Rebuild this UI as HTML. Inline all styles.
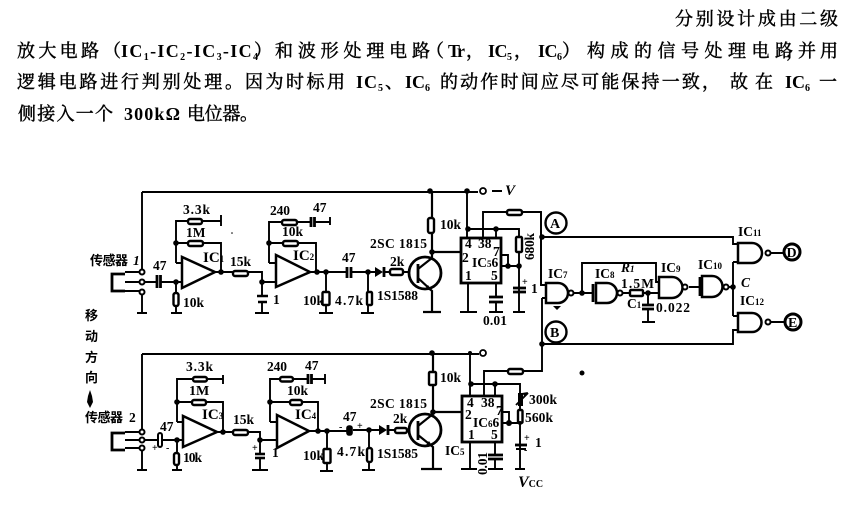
<!DOCTYPE html>
<html><head><meta charset="utf-8"><style>
html,body{margin:0;padding:0;background:#fff}
svg{display:block}
.w{fill:none;stroke:#000;stroke-width:1.9}
.t{fill:none;stroke:#000;stroke-width:2.8}
.r{fill:#fff;stroke:#000;stroke-width:2.4}
.g{fill:#fff;stroke:#000;stroke-width:2.5}
.o{fill:#fff;stroke:#000;stroke-width:2}
text{font-family:"Liberation Serif","Noto Serif CJK SC",serif;fill:#000;font-weight:bold;font-size:13.5px}
.h{font-size:18px;font-weight:normal;stroke:#000;stroke-width:.45}
.l{font-size:18px;font-weight:bold}
.c{font-family:"Liberation Sans","Noto Sans CJK SC",sans-serif;font-size:13px}
.i{font-style:italic}
.s{font-size:9px}
</style></head><body>
<svg width="860" height="519" viewBox="0 0 860 519" xmlns="http://www.w3.org/2000/svg">
<rect width="860" height="519" fill="#fff"/>
<!-- paragraph -->
<text class="h" x="675" y="25" textLength="163">分别设计成由二级</text>

<text class="h" x="17" y="57" textLength="82">放大电路</text>
<text class="h" x="103" y="57">（</text>
<text class="l" x="121" y="57" textLength="137">IC<tspan font-size="10" dy="3">1</tspan><tspan dy="-3">-IC</tspan><tspan font-size="10" dy="3">2</tspan><tspan dy="-3">-IC</tspan><tspan font-size="10" dy="3">3</tspan><tspan dy="-3">-IC</tspan><tspan font-size="10" dy="3">4</tspan></text>
<text class="h" x="254" y="57">）</text>
<text class="h" x="275" y="57" textLength="155">和波形处理电路</text>
<text class="h" x="426" y="57">（</text>
<text class="l" x="448" y="57" textLength="17">Tr</text><text class="h" x="466" y="57">，</text>
<text class="l" x="488" y="57" textLength="24">IC<tspan font-size="10" dy="3">5</tspan></text><text class="h" x="514" y="57">，</text>
<text class="l" x="538" y="57" textLength="24">IC<tspan font-size="10" dy="3">6</tspan></text><text class="h" x="562" y="57">）</text>
<text class="h" x="587" y="57" textLength="206">构成的信号处理电路</text>
<text class="h" x="786" y="57">，</text>
<text class="h" x="798" y="57" textLength="40">并用</text>

<text class="h" x="17" y="88" textLength="226">逻辑电路进行判别处理。</text>
<text class="h" x="245" y="88" textLength="100">因为时标用</text>
<text class="l" x="356" y="88" textLength="27">IC<tspan font-size="10" dy="3">5</tspan></text>
<text class="h" x="385" y="88">、</text>
<text class="l" x="405" y="88" textLength="25">IC<tspan font-size="10" dy="3">6</tspan></text>
<text class="h" x="440" y="88" textLength="280">的动作时间应尽可能保持一致，</text>
<text class="h" x="730" y="88" textLength="43">故在</text>
<text class="l" x="785" y="88" textLength="25">IC<tspan font-size="10" dy="3">6</tspan></text>
<text class="h" x="819" y="88">一</text>

<text class="h" x="18" y="120" textLength="95">侧接入一个</text>
<text class="l" x="124" y="120" textLength="56">300kΩ</text>
<text class="h" x="187" y="120" textLength="71">电位器。</text>

<!-- TOP CHANNEL wires -->
<path class="w" d="M142,192H478M142,192V270M142,292V313M137,313H147"/>
<path class="t" d="M125,274H112V291H125"/>
<path class="w" d="M125,272H140M125,282H140M125,291H140"/>
<path class="w" d="M144,282H158M160,282H182"/>
<path class="t" d="M157,275V288M160.5,275V288"/>
<path class="w" d="M176,282V313M171,313H182"/>
<rect class="r" x="173.500" y="293" width="5" height="13" rx="2"/>
<path class="w" d="M176,263V221H221M221,215V226M176,243H221V272M176,263H182"/>
<rect class="r" x="188" y="219" width="14" height="5" rx="2"/>
<rect class="r" x="188" y="241" width="15" height="5" rx="2"/>
<path class="g" d="M182,257V288L215,272Z"/>
<path class="w" d="M215,272H262V282M262,282H276M262,282V296M262,303V313M255,313H269"/>
<path class="w" d="M257,296H268M258,302H267" style="stroke-width:2.6"/>
<rect class="r" x="233" y="271" width="15" height="5" rx="2"/>
<path class="w" d="M269,263V222H310M315,222H330M330,217V225M269,243H316V272M269,263H276"/>
<path class="t" d="M311,217V227M314.500,217V227"/>
<rect class="r" x="282" y="220" width="15" height="5" rx="2"/>
<rect class="r" x="283" y="241" width="15" height="5" rx="2"/>
<path class="g" d="M276,255V287L310,272Z"/>
<path class="w" d="M310,272H346M352,272H380M326,272V313M319,313H333M368,272V313M361,313H374"/>
<path class="t" d="M347,267V278M351,267V278"/>
<rect class="r" x="322.500" y="292" width="7" height="13" rx="1"/>
<rect class="r" x="367" y="292" width="5" height="13" rx="1"/>
<path d="M375,267V277L383,272Z"/><path class="t" d="M384,267V277"/>
<path class="w" d="M384,272H418"/>
<rect class="r" x="390" y="269" width="13" height="6" rx="2"/>
<circle class="o" cx="425" cy="273" r="16" style="stroke-width:2.8"/>
<path class="t" d="M418,264V283"/>
<path class="w" d="M418,269L432,258V192M418,278L432,291V312M423,312H441M432,252H461" style="stroke-width:2.2"/>
<path d="M432,291l-7,-2l3,-4z"/>
<rect class="r" x="428" y="218" width="6" height="15" rx="2"/>
<circle class="o" cx="483" cy="191" r="3" style="stroke-width:1.8"/>
<path class="w" d="M492,191H502" style="stroke-width:2"/>

<!-- IC5 -->
<rect x="461" y="238" width="40" height="45" fill="#fff" stroke="#000" stroke-width="2.8"/>
<path class="w" d="M467,191V238M467,229H519V312M513,312H525M496,229V238M483,238V212H541V285M501,255H508V266M501,266H519M496,283V297M496,302V312M489,312H503M468,283V312M460,312H477"/>
<path class="t" d="M489,297H503M489,302H503"/>
<path class="t" d="M513,288H526M513,292H526"/>
<rect class="r" x="516" y="237" width="6" height="15" rx="1"/>
<rect class="r" x="507" y="210" width="15" height="5" rx="2"/>
<path class="w" d="M541,212V285H547M542,298V371H523M508,371H484V396M542,298H548"/>
<circle class="o" cx="556" cy="223" r="10.500" style="stroke-width:2.400"/>
<circle class="o" cx="556" cy="332" r="10.500" style="stroke-width:2.400"/>
<path class="w" d="M541,237H733V244H738M541,344H733V330H738"/>
<path class="w" d="M573,293H594M582,293V263H656V282H660M621,293H660M648,293V305M648,309V322M642,322H655M689,287H701M729,287H733M733,262V316M733,262H738M733,316H738M771,253H785M771,322H785"/>
<path class="t" d="M642,305H654M642,309H654"/>
<rect class="r" x="630" y="290" width="13" height="6" rx="1"/>
<path class="g" d="M546,283H558A10,10 0 0 1 558,303H546Z"/><circle class="o" cx="571" cy="293" r="2.500"/>
<path class="g" d="M596,283H607A10,10 0 0 1 607,303H596Z"/><path class="t" d="M593,284V302"/><circle class="o" cx="620" cy="293" r="2.500"/>
<path class="g" d="M659,277H672A10.500,10.500 0 0 1 672,298H659Z"/><circle class="o" cx="685" cy="287" r="2.500"/>
<path class="g" d="M702,276H712A10.500,10.500 0 0 1 712,297H702Z"/><path class="t" d="M700,277V296"/><circle class="o" cx="726" cy="287" r="2.500"/>
<path class="g" d="M738,243H752A10,10 0 0 1 752,263H738Z"/><circle class="o" cx="768" cy="253" r="2.500"/>
<path class="g" d="M738,313H752A9.500,9.500 0 0 1 752,332H738Z"/><circle class="o" cx="768" cy="322" r="2.500"/>
<circle class="o" cx="792" cy="252" r="8" style="stroke-width:3"/>
<circle class="o" cx="793" cy="322" r="8" style="stroke-width:3"/>

<!-- BOTTOM CHANNEL -->
<path class="w" d="M142,354H479M142,354V429M142,450V470M137,470H147"/>
<path class="t" d="M125,433H112V450H125"/>
<path class="w" d="M125,432H140M125,440H140M125,448H140"/>
<path class="w" d="M144,440H183M177,440V470M172,470H182"/>
<rect x="158" y="433" width="4" height="14" rx="2" fill="#fff" stroke="#000" stroke-width="2"/>
<rect class="r" x="174" y="453" width="5" height="12" rx="2"/>
<path class="w" d="M177,422V379H223M223,375V384M177,402H223V432M177,422H183"/>
<rect class="r" x="193" y="377" width="14" height="4.500" rx="2"/>
<rect class="r" x="192" y="400" width="14" height="5" rx="2"/>
<path class="g" d="M183,416V447L217,432Z"/>
<path class="w" d="M217,432H260V440H277M260,440V454M260,458V470M252,470H268"/>
<path class="w" d="M255,454H265" style="stroke-width:2.6"/><path class="w" d="M255,458H265" style="stroke-width:2.6"/>
<rect class="r" x="233" y="430" width="15" height="5" rx="2"/>
<path class="w" d="M270,422V379H308M312,379H325M325,374V384M270,402H318V431M270,422H277"/>
<path class="t" d="M308,374V384M311.500,374V384"/>
<rect class="r" x="280" y="377" width="13" height="4.500" rx="2"/>
<rect class="r" x="290" y="400" width="12" height="5" rx="2"/>
<path class="g" d="M277,415V448L309,431Z"/>
<path class="w" d="M309,431H347M353,430H380M327,431V471M320,471H333M369,430V470M362,470H375"/>
<rect x="347" y="426" width="5" height="9" rx="2" stroke="#000" stroke-width="1.600"/>
<rect class="r" x="323.500" y="449" width="7" height="14" rx="1"/>
<rect class="r" x="367" y="448" width="5" height="14" rx="2"/>
<path d="M379,425V435L387,430Z"/><path class="t" d="M388,425V435"/>
<path class="w" d="M388,430H418"/>
<rect class="r" x="395" y="428" width="12" height="5" rx="2"/>
<circle class="o" cx="425" cy="430" r="16" style="stroke-width:2.800"/>
<path class="t" d="M418,421V440"/>
<path class="w" d="M418,426L433,414V354M418,435L433,447V469M421,469H442M433,412H462" style="stroke-width:2.200"/>
<path d="M433,447l-7,-2l3,-4z"/>
<rect class="r" x="429" y="372" width="7" height="13" rx="1"/>
<circle class="o" cx="483" cy="353" r="3" style="stroke-width:1.800"/>

<!-- IC6 -->
<rect x="462" y="396" width="40" height="46" fill="#fff" stroke="#000" stroke-width="2.800"/>
<path class="w" d="M470,354V396M470,384H520V469M515,469H525M495,384V396M502,412H509V423M502,423H520M495,442V455M495,459V469M488,469H503M470,442V469M461,469H477"/>
<path class="t" d="M488,455H503M488,459H503"/>
<path class="t" d="M515,445H527"/><path class="w" d="M516,449H526" style="stroke-width:2"/>
<rect x="518" y="393" width="5" height="13" fill="#000"/>
<rect class="r" x="518" y="410" width="4.500" height="13" rx="1"/>
<path class="w" d="M528,393L516,405"/><path d="M528,392l-6,1l3,4z"/>
<rect class="r" x="508" y="369" width="15" height="5" rx="2"/>

<!-- nodes -->
<g>
<circle cx="176" cy="282" r="2.800"/><circle cx="176" cy="243" r="2.800"/><circle cx="221" cy="272" r="2.800"/>
<circle cx="262" cy="282" r="2.800"/><circle cx="269" cy="243" r="2.800"/><circle cx="317" cy="272" r="2.800"/>
<circle cx="326" cy="272" r="2.800"/><circle cx="368" cy="272" r="2.800"/><circle cx="430" cy="191" r="2.800"/>
<circle cx="467" cy="191" r="2.800"/><circle cx="432" cy="252" r="2.800"/><circle cx="468" cy="229" r="2.800"/>
<circle cx="496" cy="229" r="2.800"/><circle cx="508" cy="266" r="2.800"/><circle cx="519" cy="266" r="2.800"/>
<circle cx="542" cy="237" r="2.800"/><circle cx="542" cy="344" r="2.800"/><circle cx="582" cy="293" r="2.800"/>
<circle cx="648" cy="293" r="2.800"/><circle cx="733" cy="287" r="2.800"/>
<circle cx="177" cy="440" r="2.800"/><circle cx="177" cy="402" r="2.800"/><circle cx="223" cy="432" r="2.800"/>
<circle cx="260" cy="440" r="2.800"/><circle cx="270" cy="402" r="2.800"/><circle cx="318" cy="431" r="2.800"/>
<circle cx="327" cy="431" r="2.800"/><circle cx="369" cy="430" r="2.800"/><circle cx="432" cy="353" r="2.800"/>
<circle cx="470" cy="353" r="2"/><circle cx="433" cy="412" r="2.800"/><circle cx="471" cy="384" r="2.800"/>
<circle cx="495" cy="384" r="2.800"/><circle cx="509" cy="423" r="3"/><circle cx="520" cy="423" r="2"/>
<circle cx="582" cy="373" r="2.500"/><path d="M553,306h8l-4,4z"/>
<path d="M90,390l2,6l1,6l-3,6l-3,-6l1,-6z"/><circle cx="232" cy="233" r=".8"/>
</g>
<circle class="o" cx="142" cy="272" r="2.500"/><circle class="o" cx="142" cy="282" r="2.500"/><circle class="o" cx="142" cy="292" r="2.500"/>
<circle class="o" cx="142" cy="432" r="2.500"/><circle class="o" cx="142" cy="440" r="2.500"/><circle class="o" cx="142" cy="448" r="2.500"/>

<!-- labels top -->
<text class="c" x="90" y="265" textLength="38">传感器</text><text class="i" x="133" y="265">1</text>
<text x="153" y="270">47</text><text x="183" y="307">10k</text>
<text x="183" y="214" textLength="27">3.3k</text><text x="186" y="237" font-size="14">1M</text>
<text x="203" y="262" style="font-size:15px">IC<tspan class="s">1</tspan></text>
<text x="230" y="266">15k</text><text x="273" y="304">1</text>
<text x="270" y="215" textLength="20">240</text><text x="313" y="212">47</text>
<text x="282" y="236">10k</text><text x="293" y="260" style="font-size:15px">IC<tspan class="s">2</tspan></text>
<text x="303" y="305">10k</text><text x="335" y="305" textLength="28">4.7k</text>
<text x="342" y="262">47</text>
<text x="370" y="248" textLength="57">2SC 1815</text><text x="390" y="266">2k</text>
<text x="377" y="300" textLength="41">1S1588</text><text x="440" y="229">10k</text>
<text class="i" x="505" y="195" style="font-size:15px">V</text>
<text x="465" y="248">4</text><text x="478" y="248">38</text><text x="462" y="262">2</text>
<text x="472" y="267">IC<tspan class="s">5</tspan>6</text><text x="493" y="256">7</text>
<text x="465" y="280">1</text><text x="491" y="280">5</text>
<text x="483" y="325" textLength="24">0.01</text>
<text transform="translate(534,260) rotate(-90)" textLength="27">680k</text>
<text x="531" y="293">1</text><text x="522" y="285" style="font-size:10px">+</text>
<text x="550" y="228" style="font-size:14px">A</text><text x="550" y="337" style="font-size:14px">B</text>
<text x="786.500" y="257" style="font-size:14px">D</text><text x="788" y="327" style="font-size:14px">E</text>
<text x="548" y="278">IC<tspan class="s">7</tspan></text><text x="595" y="278">IC<tspan class="s">8</tspan></text>
<text class="i" x="621" y="272">R<tspan class="s">1</tspan></text><text x="621" y="288" textLength="33">1.5M</text>
<text x="627" y="308">C<tspan class="s">1</tspan></text><text x="656" y="312" textLength="34">0.022</text>
<text x="661" y="272">IC<tspan class="s">9</tspan></text><text x="698" y="269">IC<tspan class="s">10</tspan></text>
<text x="738" y="236">IC<tspan class="s">11</tspan></text><text class="i" x="741" y="287">C</text>
<text x="740" y="305">IC<tspan class="s">12</tspan></text>

<!-- vertical -->
<text class="c" x="85" y="320">移</text><text class="c" x="85" y="341">动</text>
<text class="c" x="85" y="362">方</text><text class="c" x="85" y="382">向</text>

<!-- labels bottom -->
<text class="c" x="85" y="422" textLength="38">传感器</text><text x="129" y="422">2</text>
<text x="160" y="431">47</text><text x="183" y="462" textLength="19">10k</text>
<text x="186" y="371" textLength="27">3.3k</text><text x="189" y="395" style="font-size:14px">1M</text>
<text x="202" y="419" style="font-size:15px">IC<tspan class="s">3</tspan></text>
<text x="233" y="424">15k</text><text x="272" y="457">1</text>
<text x="267" y="371" textLength="20">240</text><text x="305" y="370">47</text>
<text x="287" y="395">10k</text><text x="295" y="419" style="font-size:15px">IC<tspan class="s">4</tspan></text>
<text x="303" y="460">10k</text><text x="337" y="456" textLength="28">4.7k</text>
<text x="343" y="421">47</text>
<text x="370" y="408" textLength="57">2SC 1815</text><text x="393" y="423">2k</text>
<text x="377" y="458" textLength="41">1S1585</text><text x="440" y="382">10k</text>
<text x="467" y="407">4</text><text x="481" y="407">38</text><text x="465" y="419">2</text>
<text x="473" y="427">IC<tspan class="s">6</tspan>6</text><text x="496" y="415">7</text>
<text x="468" y="439">1</text><text x="491" y="439">5</text>
<text x="445" y="455">IC<tspan class="s">5</tspan></text>
<text transform="translate(487,475) rotate(-90)" textLength="23">0.01</text>
<text x="529" y="404" textLength="28">300k</text><text x="525" y="422" textLength="28">560k</text>
<text x="535" y="447">1</text><text x="524" y="441" style="font-size:10px">+</text><text x="524" y="453" style="font-size:10px">-</text>
<text class="i" x="518" y="487" style="font-size:16px">V<tspan font-style="normal" style="font-size:10px;font-style:normal">CC</tspan></text>
<text x="152" y="451" style="font-size:10px">+</text><text x="166" y="451" style="font-size:10px">-</text>
<text x="252" y="451" style="font-size:10px">+</text><text x="339" y="430" style="font-size:10px">-</text><text x="357" y="429" style="font-size:10px">+</text>
</svg>
</body></html>
